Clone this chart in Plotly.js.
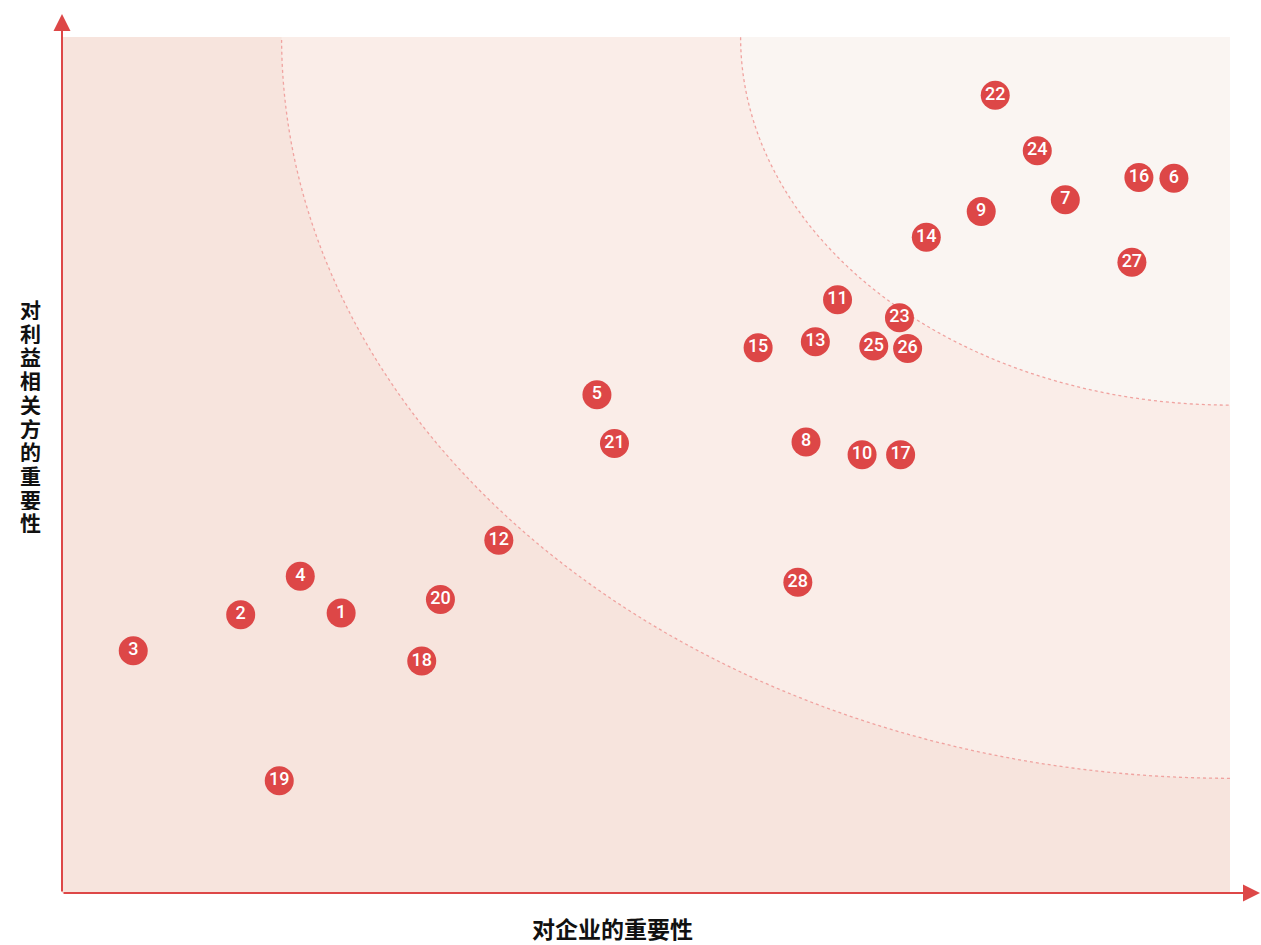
<!DOCTYPE html>
<html>
<head>
<meta charset="utf-8">
<script src="https://cdn.plot.ly/plotly-3.0.1.min.js"></script>
<style>html,body{margin:0;padding:0;background:#fff;}#chart{width:1261px;height:945px;}</style>
</head>
<body>
<div id="chart"></div>
<script>
const labels = ['1','2','3','4','5','6','7','8','9','10','11','12','13','14','15','16','17','18','19','20','21','22','23','24','25','26','27','28'];
const importanceToCompany = [2.39,1.53,0.61,2.04,4.58,9.52,8.59,6.37,7.87,6.85,6.64,3.74,6.45,7.40,5.96,9.22,7.18,3.08,1.86,3.24,4.73,7.99,7.17,8.35,6.95,7.24,9.16,6.30];
const importanceToStakeholders = [3.27,3.25,2.83,3.70,5.82,8.35,8.10,5.27,7.96,5.12,6.93,4.12,6.44,7.66,6.37,8.36,5.12,2.71,1.31,3.43,5.25,9.32,6.72,8.67,6.39,6.36,7.37,3.63];
const xTitle = '对企业的重要性';
const yTitle = '对利益相关方的重要性';

const W = 1261, H = 945;
const L = 62, R = 31, T = 37, B = 52;
const pw = W - L - R, ph = H - T - B;

const trace = {
  x: importanceToCompany,
  y: importanceToStakeholders,
  text: labels,
  mode: 'markers+text',
  type: 'scatter',
  textposition: 'middle center',
  textfont: {family: 'Roboto, sans-serif', size: 18, weight: 500, color: '#ffffff'},
  marker: {size: 29, color: '#dd4747', line: {width: 0}},
  hoverinfo: 'skip',
  cliponaxis: false
};

const annotations = [
  {xref: 'paper', yref: 'paper', x: 0, y: (H - B - 14) / ph, ax: 0, ay: (H - B - 14), axref: 'pixel', ayref: 'pixel',
   showarrow: true, arrowhead: 2, arrowsize: 1.7, arrowwidth: 2, arrowcolor: '#dd4747', text: ''},
  {xref: 'paper', yref: 'paper', x: (W - 1 - L) / pw, y: 0, ax: -(W - 1 - L), ay: 0, axref: 'pixel', ayref: 'pixel',
   showarrow: true, arrowhead: 2, arrowsize: 1.7, arrowwidth: 2, arrowcolor: '#dd4747', text: ''},
  {xref: 'paper', yref: 'paper', x: (612 - L) / pw, y: -(928 - (H - B)) / ph, xanchor: 'center', yanchor: 'middle',
   showarrow: false, text: xTitle, font: {family: 'Noto Sans CJK SC, sans-serif', size: 23, weight: 'bold', color: '#111111'}}
];
// vertical (stacked) y-axis title, one upright character per line
const yChars = yTitle.split('');
const yTop = 309, yStep = 23.7;
yChars.forEach((ch, i) => {
  annotations.push({xref: 'paper', yref: 'paper', x: -(L - 30) / pw, y: (H - B - (yTop + i * yStep)) / ph,
    xanchor: 'center', yanchor: 'middle', showarrow: false, text: ch, height: 22, borderpad: 0,
    font: {family: 'Noto Sans CJK SC, sans-serif', size: 21, weight: 'bold', color: '#111111'}});
});

const layout = {
  width: W, height: H,
  margin: {l: L, r: R, t: T, b: B},
  paper_bgcolor: '#ffffff',
  plot_bgcolor: '#f7e4dd',
  showlegend: false,
  xaxis: {range: [0, 10], showgrid: false, zeroline: false, showticklabels: false, ticks: '', showline: false, fixedrange: true},
  yaxis: {range: [0, 10], showgrid: false, zeroline: false, showticklabels: false, ticks: '', showline: false, fixedrange: true},
  shapes: [
    {type: 'circle', xref: 'x', yref: 'y', x0: 10 - 8.12, x1: 10 + 8.12, y0: 10 - 8.66, y1: 10 + 8.66,
     fillcolor: '#faede8', line: {color: '#f0a3a0', width: 1.3, dash: 'dot'}, layer: 'below'},
    {type: 'circle', xref: 'x', yref: 'y', x0: 10 - 4.19, x1: 10 + 4.19, y0: 10 - 4.30, y1: 10 + 4.30,
     fillcolor: '#faf5f2', line: {color: '#f0a3a0', width: 1.3, dash: 'dot'}, layer: 'below'}
  ],
  annotations: annotations
};

Plotly.newPlot('chart', [trace], layout, {displayModeBar: false, staticPlot: true});
</script>
</body>
</html>
